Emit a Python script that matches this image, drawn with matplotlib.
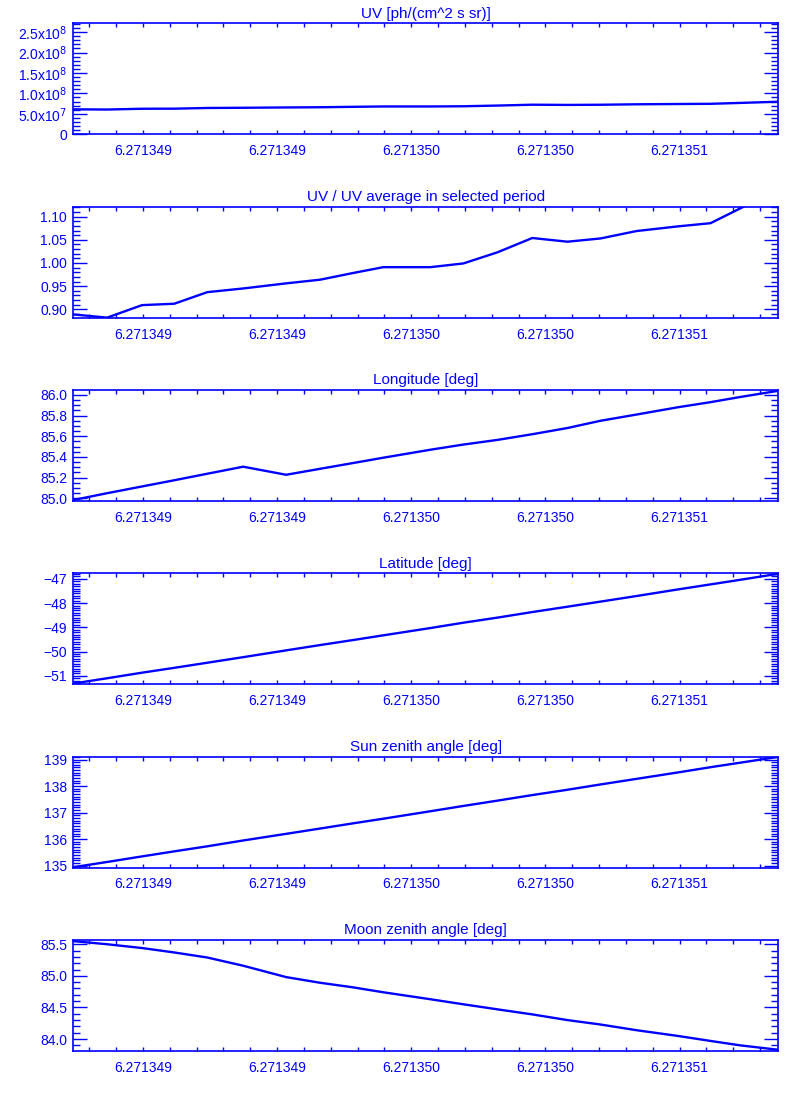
import matplotlib
matplotlib.use("Agg")
import numpy as np
import matplotlib.pyplot as plt
from matplotlib.ticker import FixedLocator, MultipleLocator

plt.rcParams['font.family'] = ['Liberation Sans', 'DejaVu Sans']
plt.rcParams['axes.unicode_minus'] = True

BLUE = "#0000ff"

# sample times (same for every panel)
time = [6.271348539, 6.271348667, 6.271348797, 6.271348917, 6.271349040,
        6.271349174, 6.271349334, 6.271349461, 6.271349580, 6.271349696,
        6.271349871, 6.271349994, 6.271350121, 6.271350251, 6.271350382,
        6.271350505, 6.271350639, 6.271350792, 6.271350915, 6.271351026,
        6.271351168]

uv = [6.09e7, 6.04e7, 6.23e7, 6.25e7, 6.42e7, 6.47e7, 6.55e7, 6.60e7, 6.70e7,
      6.79e7, 6.79e7, 6.84e7, 7.01e7, 7.22e7, 7.17e7, 7.21e7, 7.32e7, 7.39e7,
      7.44e7, 7.66e7, 7.95e7]
uv_ratio = [0.889, 0.882, 0.909, 0.912, 0.937, 0.945, 0.956, 0.964, 0.978,
            0.991, 0.991, 0.999, 1.023, 1.054, 1.046, 1.053, 1.069, 1.079,
            1.086, 1.118, 1.160]
longitude = [84.983, 85.05, 85.115, 85.175, 85.238, 85.306, 85.228, 85.286,
             85.340, 85.393, 85.47, 85.52, 85.565, 85.62, 85.68, 85.75, 85.81,
             85.88, 85.93, 85.98, 86.04]
latitude = [-51.32, -51.10, -50.87, -50.67, -50.46, -50.23, -49.95, -49.73,
            -49.53, -49.33, -49.03, -48.81, -48.60, -48.37, -48.15, -47.94,
            -47.71, -47.44, -47.23, -47.04, -46.79]
sun_zenith = [134.94, 135.14, 135.35, 135.54, 135.73, 135.95, 136.20, 136.40,
              136.59, 136.77, 137.05, 137.25, 137.45, 137.66, 137.86, 138.06,
              138.27, 138.51, 138.71, 138.88, 139.10]
moon_zenith = [85.55, 85.50, 85.44, 85.37, 85.29, 85.16, 84.98, 84.89, 84.82,
               84.74, 84.63, 84.55, 84.47, 84.39, 84.30, 84.23, 84.14, 84.05,
               83.97, 83.90, 83.83]

x_ticks = [6.2713488, 6.2713493, 6.2713498, 6.2713503, 6.2713508]
x_tick_labels = ["6.271349", "6.271349", "6.271350", "6.271350", "6.271351"]

panels = [
    dict(title="UV [ph/(cm^2 s sr)]", y=uv, ylim=(0, 2.72e8),
         yticks=[0, 5e7, 1e8, 1.5e8, 2e8, 2.5e8],
         ylabels=["0", "5.0x10$^{7}$", "1.0x10$^{8}$", "1.5x10$^{8}$",
                  "2.0x10$^{8}$", "2.5x10$^{8}$"], minor=1e7),
    dict(title="UV / UV average in selected period", y=uv_ratio,
         ylim=(0.8814, 1.1214), yticks=[0.90, 0.95, 1.00, 1.05, 1.10],
         ylabels=["0.90", "0.95", "1.00", "1.05", "1.10"], minor=0.01),
    dict(title="Longitude [deg]", y=longitude, ylim=(84.974, 86.048),
         yticks=[85.0, 85.2, 85.4, 85.6, 85.8, 86.0],
         ylabels=["85.0", "85.2", "85.4", "85.6", "85.8", "86.0"], minor=0.05),
    dict(title="Latitude [deg]", y=latitude, ylim=(-51.345, -46.764),
         yticks=[-51, -50, -49, -48, -47],
         ylabels=["\u221251", "\u221250", "\u221249", "\u221248", "\u221247"],
         minor=0.1),
    dict(title="Sun zenith angle [deg]", y=sun_zenith, ylim=(134.925, 139.11),
         yticks=[135, 136, 137, 138, 139],
         ylabels=["135", "136", "137", "138", "139"], minor=0.1),
    dict(title="Moon zenith angle [deg]", y=moon_zenith, ylim=(83.81, 85.568),
         yticks=[84.0, 84.5, 85.0, 85.5],
         ylabels=["84.0", "84.5", "85.0", "85.5"], minor=0.1),
]

bottoms = [0.878, 0.711, 0.5445, 0.378, 0.2112, 0.0445]

fig = plt.figure(figsize=(8, 11), dpi=100)
fig.patch.set_facecolor("white")

x_minor = np.arange(6.2713486, 6.2713512, 1e-7)

for p, b in zip(panels, bottoms):
    ax = fig.add_axes([0.091, b, 0.882, 0.101])
    ax.plot(time, p["y"], color=BLUE, linewidth=1.7)
    ax.set_xlim(time[0], time[-1])
    ax.set_ylim(*p["ylim"])
    ax.set_title(p["title"], color=BLUE, fontsize=11, pad=4)

    ax.set_xticks(x_ticks)
    ax.set_xticklabels(x_tick_labels)
    ax.xaxis.set_minor_locator(FixedLocator(x_minor))
    ax.set_yticks(p["yticks"])
    ax.set_yticklabels(p["ylabels"])
    ax.yaxis.set_minor_locator(MultipleLocator(p["minor"]))

    ax.tick_params(axis="x", which="both", direction="in", top=True,
                   bottom=True, length=3, width=1, color=BLUE,
                   labelcolor=BLUE, labelsize=10, pad=7)
    ax.tick_params(axis="y", which="major", direction="in", left=True,
                   right=True, length=10, width=1, color=BLUE,
                   labelcolor=BLUE, labelsize=10, pad=4)
    ax.tick_params(axis="y", which="minor", direction="in", left=True,
                   right=True, length=5, width=1, color=BLUE)
    for s in ax.spines.values():
        s.set_color(BLUE)
        s.set_linewidth(1.2)

fig.savefig("out.png", dpi=100, facecolor="white")
